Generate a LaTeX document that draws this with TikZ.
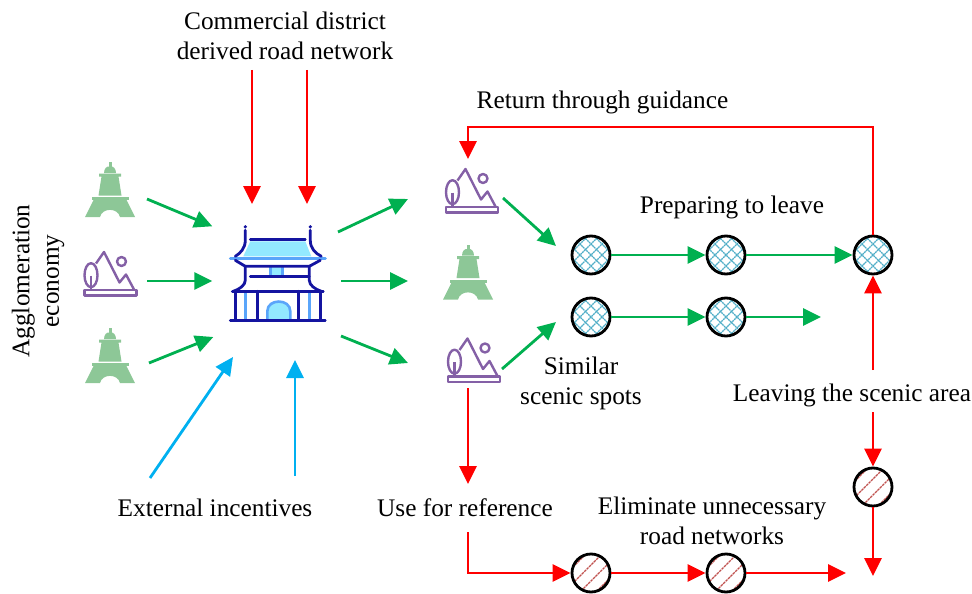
\documentclass[tikz,border=0pt]{standalone}
\usepackage{fontspec}
\setmainfont{Liberation Serif}
\usetikzlibrary{arrows.meta}
\usetikzlibrary{positioning}

\definecolor{arrowgreen}{HTML}{00B050}
\definecolor{arrowblue}{HTML}{00B0F0}
\definecolor{towergreen}{HTML}{8DC797}
\definecolor{hillpurple}{HTML}{8460A6}
\definecolor{hallnavy}{HTML}{1414A0}
\definecolor{hallblue}{HTML}{5AA5FA}
\definecolor{hallcyan}{HTML}{93E9FF}
\definecolor{hatchteal}{HTML}{4BACC6}
\definecolor{hatchred}{HTML}{C0504D}

\tikzset{
    tower/.pic={
        \fill[towergreen] (-1.5,-27.5) rectangle (1.5,-22);
        \fill[towergreen] (-6,-16.5) .. controls (-6,-21) and (-3,-23) .. (-2,-23) -- (2,-23) .. controls (3,-23) and (6,-21) .. (6,-16.5) -- cycle;
        \fill[towergreen] (-11,-16) rectangle (11,-13) (-8.5,-13) -- (8.5,-13) -- (11.5,6) -- (-11.5,6) -- cycle;
        \fill[towergreen] (-18,7.5) rectangle (19,10.5);
        \fill[towergreen] (-16.5,10.5) -- (16.5,10.5) -- (25,27.5) -- (10,27.5) .. controls (8,18) and (-8,18) .. (-10,27.5) -- (-25,27.5) -- cycle;
    },
    hill/.pic={
        \begin{scope}[draw=hillpurple,line width=2.4pt,line join=round]
            \draw (-26,16.5) rectangle (26,22);
            \draw (-14.5,-10) -- (-6.5,-21.5) -- (9,9) -- (15.5,1) -- (23.5,16);
            \draw (-19.5,1.7) ellipse (6.5 and 12);
            \draw (-19.5,2) -- (-19.5,16);
            \draw (11,-12) circle (4.5);
        \end{scope}
    },
    hall/.pic={
        % Light parts first
        \fill[hallcyan] (-27,-32) -- (28,-32) -- (34,-17) -- (-34,-17) -- cycle;
        \fill[hallcyan] (-7,-6) rectangle (5,3);
        \draw[hallblue,line width=2.6pt] (-7,3) -- (-7,-6) (5,-6) -- (5,3);
        \draw[hallblue,line width=3pt,line cap=round] (-47,-15) -- (48,-15);
        \draw[hallblue,line width=2.6pt] (-32,18) -- (-32,47) (32,18) -- (32,47);
        \draw[hallblue,line width=2.6pt,fill=hallcyan] (-10,47) -- (-10,38) .. controls (-10,25) and (13,25) .. (13,38) -- (13,47);
        % Navy outline
        \begin{scope}[draw=hallnavy,line width=2.8pt,line cap=round,line join=round]
            \fill[hallnavy] (-32,-46.5) circle (1.8) (33,-46.5) circle (1.8);
            \draw (-27,-34) -- (28,-34);
            \draw (-32,-43) -- (-32,-33) .. controls (-32,-25) and (-37,-20) .. (-42,-17);
            \draw (33,-43) -- (33,-33) .. controls (33,-25) and (38,-20) .. (44,-17);
            \draw (-42,-13) -- (-32,-7) -- (32,-7) -- (43,-13);
            \draw (-32,-7) -- (-32,7) .. controls (-32,12) and (-38,16) .. (-44,18);
            \draw (32,-7) -- (32,7) .. controls (32,12) and (38,16) .. (44,18);
            \draw (-27,3) -- (32,3);
            \draw (-45,18) -- (46,18);
            \draw (-47,47) -- (48,47);
            \foreach \x in {-42,-20,21,43}
                \draw (\x,18) -- (\x,47);
        \end{scope}
    }
}

\begin{document}
\begin{tikzpicture}[x=1pt,y=-1pt,font=\fontsize{25.3}{29.5}\selectfont]
    \tikzstyle{every node}=[inner sep=0pt]
    \tikzstyle{icon}=[minimum size=10pt]
    \tikzstyle{flow}=[line width=2.8pt,-{Triangle[length=18pt,width=17pt]}]
    \tikzstyle{green flow}=[flow,draw=arrowgreen]
    \tikzstyle{red flow}=[flow,draw=red]
    \tikzstyle{blue flow}=[flow,draw=arrowblue]
    \tikzstyle{spot}=[circle,draw=black,line width=2.8pt,minimum size=38pt,fill=white]
    \tikzstyle{cross spot}=[spot,path picture={
        \begin{scope}[shift={(path picture bounding box.center)},hatchteal,line width=1.1pt,dash pattern=on 1.8pt off 0.6pt]
            \foreach \d in {-33,-22,...,33} {
                \draw (\d-30,-30) -- (\d+30,30);
                \draw (\d-30,30) -- (\d+30,-30);
            }
        \end{scope}}]
    \tikzstyle{strip spot}=[spot,path picture={
        \begin{scope}[shift={(path picture bounding box.center)},hatchred,line width=1.3pt,dash pattern=on 2.6pt off 0.8pt]
            \foreach \d in {-24,-8,8,24}
                \draw (\d-30,30) -- (\d+30,-30);
        \end{scope}}]

    \useasboundingbox (0,0) rectangle (972,594);

    % Draw the icons
    \foreach \name / \x / \y in {T-1/110/189.5, T-2/110/355.5, T-3/468/272}
        \node[icon] (\name) at (\x,\y) {} pic at (\name) {tower};
    \foreach \name / \x / \y in {M-1/472/190.5, M-2/110.5/273.5, M-3/474/360}
        \node[icon] (\name) at (\x,\y) {} pic at (\name) {hill};
    \node[icon] (H) at (277.3,273.3) {} pic at (H) {hall};

    % Draw the spots
    \foreach \name / \x / \y in {C-1/591/255, C-2/726/255, C-3/873/255, C-4/591/317, C-5/726/317}
        \node[cross spot] (\name) at (\x,\y) {};
    \foreach \name / \x / \y in {D-1/591/573, D-2/726/573, D-3/873/487}
        \node[strip spot] (\name) at (\x,\y) {};

    % Labels
    \node (commercial) at (285,39) {\begin{tabular}{c}Commercial district\\[0.5pt]derived road network\end{tabular}};
    \node (guidance) at (602.5,102) {Return through guidance};
    \node (preparing) at (732,207) {Preparing to leave};
    \node[rotate=90,align=center] (economy) at (38,281) {Agglomeration\\economy};
    \node[align=center] (similar) at (581,383) {Similar\\[0.5pt]scenic spots};
    \node (leaving) at (852,395) {Leaving the scenic area};
    \node (incentives) at (215,507.5) {External incentives};
    \node (reference) at (465,507.5) {Use for reference};
    \node[align=center] (eliminate) at (712,520.5) {Eliminate unnecessary\\[0.5pt]road networks};

    % Free ends
    \coordinate (back) at (468,127);
    \coordinate (turn) at (468,573);
    \coordinate (end-1) at (821,317);
    \coordinate (end-2) at (846,573);
    \coordinate (end-3) at (873,576);

    % Arrows into and out of the hall
    \foreach \source / \sx / \sy / \ex / \ey in {T-1/37/9.5/-65/-47, M-2/36.5/7.5/-65/7.7, T-2/39/7.5/-64/63.7}
        \draw[green flow] ([shift={(\sx,\sy)}]\source.center) -- ([shift={(\ex,\ey)}]H.center);
    \foreach \dest / \sx / \sy / \ex / \ey in {M-1/60.7/-41.3/-64/8.5, T-3/63.7/7.7/-60/9, M-3/63.7/62.7/-66/3}
        \draw[green flow] ([shift={(\sx,\sy)}]H.center) -- ([shift={(\ex,\ey)}]\dest.center);
    \foreach \sx / \ex in {-33/-25.3, 22/29.7}
        \draw[red flow] ([shift={(\sx,31)}]commercial.center) -- ([shift={(\ex,-69.3)}]H.center);
    \draw[blue flow] ([shift={(-65,-29.5)}]incentives.center) -- ([shift={(-44.3,83.7)}]H.center);
    \draw[blue flow] ([shift={(80,-31.5)}]incentives.center) -- ([shift={(17.7,86.7)}]H.center);

    % Connect the spots
    \draw[green flow] ([shift={(31,7.5)}]M-1.center) -- ([shift={(-35,-9)}]C-1.center);
    \draw[green flow] ([shift={(28,9)}]M-3.center) -- ([shift={(-35,5)}]C-4.center);
    \draw[green flow] (C-1) -- (C-2);
    \draw[green flow] (C-2) -- (C-3);
    \draw[green flow] (C-4) -- (C-5);
    \draw[green flow] (C-5) -- (end-1);

    \draw[red flow] (C-3.north) |- (back) -- ([shift={(-4,-31.5)}]M-1.center);
    \draw[red flow] ([shift={(21,-25)}]leaving.center) -- (C-3.south);
    \draw[red flow] ([shift={(21,17)}]leaving.center) -- (D-3.north);
    \draw[red flow] (D-3.south) -- (end-3);
    \draw[red flow] ([shift={(-6,28)}]M-3.center) -- ([shift={(3,-23.5)}]reference.center);
    \draw[red flow] ([shift={(3,24.5)}]reference.center) -- (turn) -- (D-1.west);
    \draw[red flow] (D-1) -- (D-2);
    \draw[red flow] (D-2) -- (end-2);
\end{tikzpicture}
\end{document}
